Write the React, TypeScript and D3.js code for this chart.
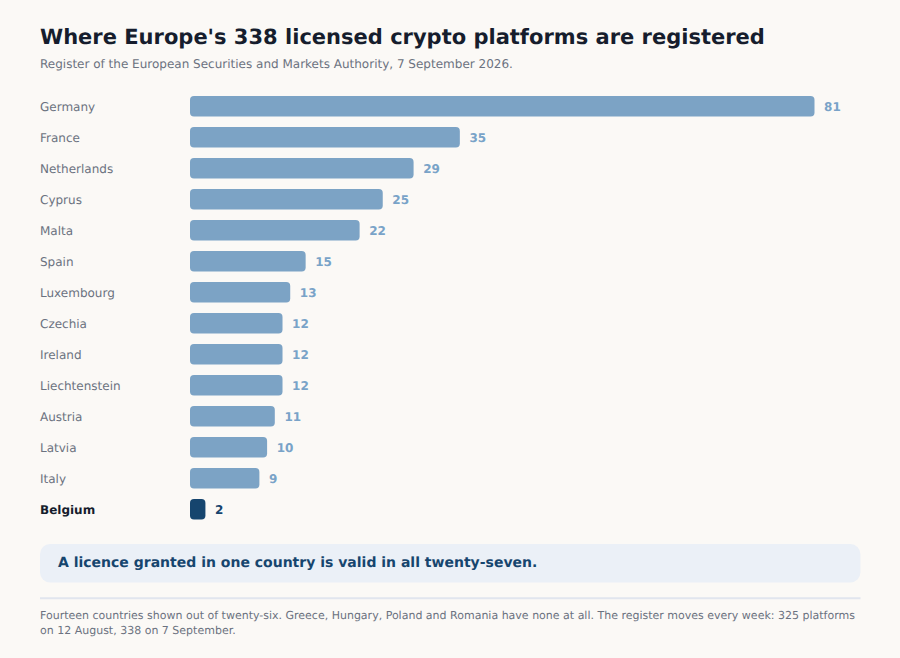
import { useEffect, useRef } from "react";
import * as d3 from "d3";

const countries = [
  "Germany", "France", "Netherlands", "Cyprus", "Malta", "Spain", "Luxembourg",
  "Czechia", "Ireland", "Liechtenstein", "Austria", "Latvia", "Italy", "Belgium",
];
const platforms = [81, 35, 29, 25, 22, 15, 13, 12, 12, 12, 11, 10, 9, 2];
const highlighted = ["Belgium"];

const title = "Where Europe's 338 licensed crypto platforms are registered";
const subtitle = "Register of the European Securities and Markets Authority, 7 September 2026.";
const callout = "A licence granted in one country is valid in all twenty-seven.";
const footnote = [
  "Fourteen countries shown out of twenty-six. Greece, Hungary, Poland and Romania have none at all. The register moves every week: 325 platforms",
  "on 12 August, 338 on 7 September.",
];

const width = 900;
const height = 658;
const font = "'DejaVu Sans', sans-serif";

const App = () => {
  const svgRef = useRef<SVGSVGElement | null>(null);

  useEffect(() => {
    if (!svgRef.current) return;
    const svg = d3.select(svgRef.current);
    svg.selectAll("*").remove();

    svg.append("rect").attr("width", width).attr("height", height).attr("fill", "#fbf9f6");

    svg.append("text").attr("x", 40).attr("y", 44).text(title)
      .attr("font-size", 21).attr("font-weight", 700).attr("fill", "#161d2d");
    svg.append("text").attr("x", 40).attr("y", 67.6).text(subtitle)
      .attr("font-size", 12).attr("fill", "#6b7280");

    const x = d3.scaleLinear().domain([0, 81]).range([190, 814.5]);
    const y = d3.scaleBand().domain(countries).range([90.75, 524.75]).paddingInner(10.5 / 31).paddingOuter(5.25 / 31);
    // label baseline sits a touch under the bar's centre
    const labelY = (c: string) => y(c)! + y.bandwidth() / 2 + 4.6;

    const rows = svg.selectAll("g.row")
      .data(countries.map((c, i) => ({ c, v: platforms[i], hi: highlighted.includes(c) })))
      .join("g").attr("class", "row");

    rows.append("text")
      .attr("x", 40)
      .attr("y", (d) => labelY(d.c))
      .attr("font-size", 12)
      .attr("font-weight", (d) => (d.hi ? 700 : 400))
      .attr("fill", (d) => (d.hi ? "#161d2d" : "#6b7280"))
      .text((d) => d.c);

    rows.append("rect")
      .attr("x", x(0))
      .attr("y", (d) => y(d.c)!)
      .attr("width", (d) => x(d.v) - x(0))
      .attr("height", y.bandwidth())
      .attr("rx", 4)
      .attr("fill", (d) => (d.hi ? "#16456e" : "#7ca3c5"));

    rows.append("text")
      .attr("x", (d) => x(d.v) + 9.6)
      .attr("y", (d) => labelY(d.c))
      .attr("font-size", 12)
      .attr("font-weight", 700)
      .attr("fill", (d) => (d.hi ? "#16456e" : "#79a3c8"))
      .text((d) => d.v);

    svg.append("rect").attr("x", 40).attr("y", 544).attr("width", 820.4).attr("height", 38.4)
      .attr("rx", 10).attr("fill", "#ebf0f7");
    svg.append("text").attr("x", 58).attr("y", 567).text(callout)
      .attr("font-size", 14).attr("font-weight", 700).attr("fill", "#16456e");

    svg.append("line").attr("x1", 40).attr("x2", 860.5).attr("y1", 598.3).attr("y2", 598.3)
      .attr("stroke", "#e1e5ee").attr("stroke-width", 2);

    svg.selectAll("text.note").data(footnote).join("text")
      .attr("class", "note")
      .attr("x", 40)
      .attr("y", (_, i) => 619 + i * 15)
      .attr("font-size", 11)
      .attr("fill", "#6b7280")
      .text((d) => d);
  }, []);

  return (
    <svg
      ref={svgRef}
      width={width}
      height={height}
      fontFamily={font}
      textRendering="geometricPrecision"
      style={{ position: "absolute", left: 0, top: 0 }}
    />
  );
};

export default App;
